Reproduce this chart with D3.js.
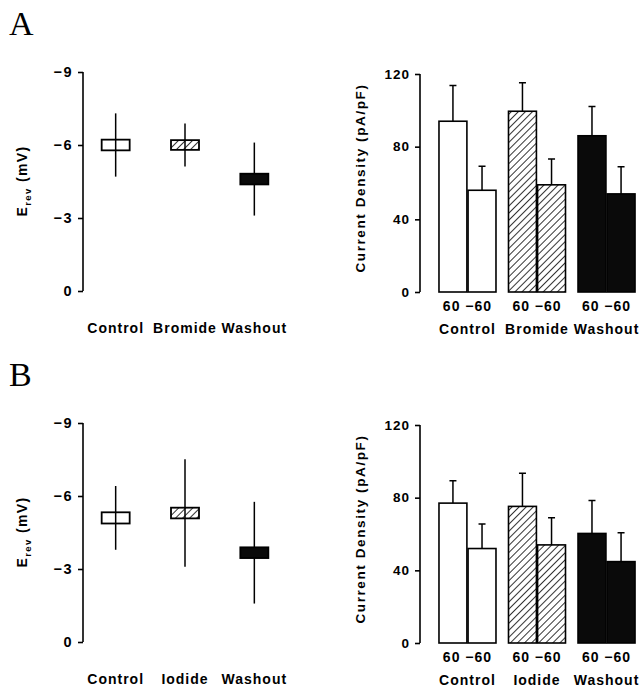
<!DOCTYPE html>
<html>
<head>
<meta charset="utf-8">
<script src="https://cdn.jsdelivr.net/npm/d3@7"></script>
<style>
  body { margin: 0; background: #fff; }
  text { font-family: "Liberation Sans", Arial, sans-serif; font-weight: bold; fill: #000; }
  .panel-letter { font-family: "Liberation Serif", "Times New Roman", serif; font-weight: normal; font-size: 34px; }
  .axis text { font-size: 13.5px; letter-spacing: 1px; }
  .erev-axis text { font-size: 14.5px; letter-spacing: 1.5px; }
  .axis path, .axis line { stroke: #000; stroke-width: 1.6px; }
  .cat, .volt { font-size: 14px; letter-spacing: 1px; }
</style>
</head>
<body>
<div id="wrapper"></div>
<script>
// reversal potential, mean / box half-width / whisker half-width (mV)
const groupsA = ["Control", "Bromide", "Washout"]
const groupsB = ["Control", "Iodide", "Washout"]
const erevMeanA = [-6.0, -6.0, -4.6]
const erevSemA = [0.22, 0.2, 0.22]
const erevSdA = [1.3, 0.88, 1.5]
const erevMeanB = [-5.1, -5.3, -3.67]
const erevSemB = [0.23, 0.22, 0.22]
const erevSdB = [1.31, 2.21, 2.09]
const erevTicks = [0, -3, -6, -9]

// current density at +60 / -60 mV (pA/pF)
const voltages = ["60", "-60"]
const density60A = [94, 99.5, 86]
const density60ErrA = [19.7, 15.7, 16.1]
const densityM60A = [56, 59, 54]
const densityM60ErrA = [13.2, 14.2, 15]
const density60B = [77, 75.2, 60.3]
const density60ErrB = [12.3, 18.3, 18.2]
const densityM60B = [52, 54, 44.8]
const densityM60ErrB = [13.5, 14.9, 15.9]
const densityTicks = [0, 40, 80, 120]

function drawFigure() {

  //..................................................
  // canvas
  const width = 643
  const height = 690
  const wrapper = d3.select("#wrapper")
    .append("svg")
      .attr("width", width)
      .attr("height", height)

  const defs = wrapper.append("defs")
  const hatch = defs.append("pattern")
      .attr("id", "hatch")
      .attr("patternUnits", "userSpaceOnUse")
      .attr("width", 5)
      .attr("height", 5)
      .attr("patternTransform", "rotate(45)")
  hatch.append("rect").attr("width", 5).attr("height", 5).attr("fill", "#fff")
  hatch.append("line")
      .attr("x1", 0).attr("y1", 0).attr("x2", 0).attr("y2", 5)
      .attr("stroke", "#000")
      .attr("stroke-width", 1.6)

  const fills = ["#fff", "url(#hatch)", "#0a0a0a"]
  const minus = s => s.replace("-", "\u2212")

  //..................................................
  // left: E_rev box plots
  const drawErev = (top, groups, means, sems, sds, letter) => {
    const g = wrapper.append("g")

    g.append("text")
        .attr("class", "panel-letter")
        .attr("x", 9)
        .attr("y", top + 35)
        .text(letter)

    const xScale = d3.scaleBand()
      .domain(groups)
      .range([81, 289])

    const yScale = d3.scaleLinear()
      .domain([0, -9])
      .range([top + 291, top + 72])

    const yAxis = g.append("g")
        .attr("class", "axis erev-axis")
        .attr("transform", "translate(83,0)")
        .call(d3.axisLeft(yScale).tickValues(erevTicks).tickSize(5).tickSizeOuter(0).tickPadding(5))
    yAxis.select(".domain").attr("d", `M0,${yScale(0)}V${yScale(-9)}`)

    const data = groups.map((d, i) => ({ name: d, mean: means[i], sem: sems[i], sd: sds[i], fill: fills[i] }))
    const cx = d => xScale(d.name) + xScale.bandwidth() / 2
    const boxW = 28

    g.selectAll(".whisker")
      .data(data)
      .join("line")
        .attr("class", "whisker")
        .attr("x1", cx).attr("x2", cx)
        .attr("y1", d => yScale(d.mean - d.sd))
        .attr("y2", d => yScale(d.mean + d.sd))
        .attr("stroke", "#000")
        .attr("stroke-width", 1.5)

    g.selectAll(".box")
      .data(data)
      .join("rect")
        .attr("class", "box")
        .attr("x", d => cx(d) - boxW / 2)
        .attr("width", boxW)
        .attr("y", d => yScale(d.mean - d.sem))
        .attr("height", d => yScale(d.mean + d.sem) - yScale(d.mean - d.sem))
        .attr("fill", d => d.fill)
        .attr("stroke", "#000")
        .attr("stroke-width", 1.8)

    // whisker shows through the open box
    g.selectAll(".inner")
      .data(data.filter((d, i) => i < 2))
      .join("line")
        .attr("x1", cx).attr("x2", cx)
        .attr("y1", d => yScale(d.mean - d.sem))
        .attr("y2", d => yScale(d.mean + d.sem))
        .attr("stroke", "#000")
        .attr("stroke-width", 1.5)

    g.selectAll(".cat")
      .data(data)
      .join("text")
        .attr("class", "cat")
        .attr("x", cx)
        .attr("y", top + 333)
        .attr("text-anchor", "middle")
        .text(d => d.name)

    const lbl = g.append("text")
        .attr("transform", `translate(27,${top + 181}) rotate(-90)`)
        .attr("text-anchor", "middle")
        .style("font-size", "14px")
        .style("letter-spacing", "1.4px")
    lbl.append("tspan").text("E")
    lbl.append("tspan").attr("dy", 4).style("font-size", "9.5px").text("rev")
    lbl.append("tspan").attr("dy", -4).text("  (mV)")
  }

  //..................................................
  // right: current density bars
  const drawDensity = (top, groups, m60, e60, mm60, em60) => {
    const g = wrapper.append("g")

    const xScale = d3.scaleBand()
      .domain(groups)
      .range([420, 654])
      .paddingInner(0.18)
      .paddingOuter(0.273)

    const vScale = d3.scaleBand()
      .domain(voltages)
      .range([0, xScale.bandwidth()])
      .paddingInner(0.04)

    const yScale = d3.scaleLinear()
      .domain([0, 120])
      .range([top + 292, top + 74])

    const yAxis = g.append("g")
        .attr("class", "axis")
        .attr("transform", "translate(420,0)")
        .call(d3.axisLeft(yScale).tickValues(densityTicks).tickSize(5).tickSizeOuter(0).tickPadding(5))
    yAxis.select(".domain").attr("d", `M0,${yScale(0)}V${yScale(120)}`)

    const data = []
    groups.forEach((grp, i) => {
      data.push({ grp, v: "60", val: m60[i], err: e60[i], fill: fills[i] })
      data.push({ grp, v: "-60", val: mm60[i], err: em60[i], fill: fills[i] })
    })
    const bx = d => xScale(d.grp) + vScale(d.v)
    const bc = d => bx(d) + vScale.bandwidth() / 2
    const gc = d => xScale(d) + xScale.bandwidth() / 2

    g.selectAll(".err")
      .data(data)
      .join("path")
        .attr("class", "err")
        .attr("d", d => `M${bc(d)},${yScale(d.val)}V${yScale(d.val + d.err)}M${bc(d) - 3.5},${yScale(d.val + d.err)}H${bc(d) + 3.5}`)
        .attr("fill", "none")
        .attr("stroke", "#000")
        .attr("stroke-width", 1.5)

    g.selectAll(".bar")
      .data(data)
      .join("rect")
        .attr("class", "bar")
        .attr("x", bx)
        .attr("width", vScale.bandwidth())
        .attr("y", d => yScale(d.val))
        .attr("height", d => yScale(0) - yScale(d.val))
        .attr("fill", d => d.fill)
        .attr("stroke", "#000")
        .attr("stroke-width", 1.6)

    g.selectAll(".volt")
      .data(groups)
      .join("text")
        .attr("class", "volt")
        .attr("x", gc)
        .attr("y", top + 311)
        .attr("text-anchor", "middle")
        .text(voltages.map(minus).join(" "))

    g.selectAll(".cat")
      .data(groups)
      .join("text")
        .attr("class", "cat")
        .attr("x", gc)
        .attr("y", top + 334)
        .attr("text-anchor", "middle")
        .text(d => d)

    g.append("text")
        .attr("transform", `translate(365,${top + 178}) rotate(-90)`)
        .attr("text-anchor", "middle")
        .style("font-size", "13.5px")
        .style("letter-spacing", "1.6px")
        .text("Current Density (pA/pF)")
  }

  drawErev(0, groupsA, erevMeanA, erevSemA, erevSdA, "A")
  drawDensity(0, groupsA, density60A, density60ErrA, densityM60A, densityM60ErrA)
  drawErev(351, groupsB, erevMeanB, erevSemB, erevSdB, "B")
  drawDensity(351, groupsB, density60B, density60ErrB, densityM60B, densityM60ErrB)
}
drawFigure()
</script>
</body>
</html>
